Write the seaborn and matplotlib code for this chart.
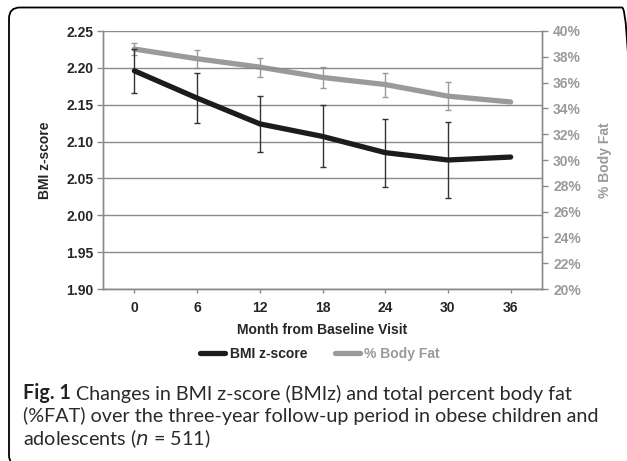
import numpy as np
import pandas as pd
import matplotlib
matplotlib.use("Agg")
import matplotlib.pyplot as plt
import seaborn as sns
from matplotlib.patches import FancyBboxPatch
from matplotlib.lines import Line2D

months = [0, 6, 12, 18, 24, 30, 36]
bmi_z = [2.196, 2.159, 2.124, 2.107, 2.085, 2.075, 2.079]
bmi_err = [0.030, 0.034, 0.038, 0.042, 0.046, 0.052, np.nan]
body_fat = [38.6, 37.85, 37.2, 36.4, 35.85, 34.95, 34.5]
fat_err = [0.45, 0.68, 0.73, 0.83, 0.93, 1.08, np.nan]

left_ticks = [1.90, 1.95, 2.00, 2.05, 2.10, 2.15, 2.20, 2.25]
right_ticks = [20, 22, 24, 26, 28, 30, 32, 34, 36, 38, 40]

df = pd.DataFrame({"month": months, "bmi": bmi_z, "bmi_err": bmi_err,
                   "fat": body_fat, "fat_err": fat_err})

sns.set_style("white")
plt.rcParams["font.family"] = ["Liberation Sans", "DejaVu Sans"]

BLACK = "#1c1c1c"
GRAY = "#9a9a9a"
AXC = "#8a8a8a"
W, H = 627, 461

fig = plt.figure(figsize=(W / 100, H / 100), dpi=100)
ax = fig.add_axes([103 / W, 1 - 289 / H, (542 - 103) / W, (289 - 31) / H])
ax2 = ax.twinx()

# gridlines follow the left axis
ax.set_ylim(1.90, 2.25)
ax.set_yticks(left_ticks)
ax.set_yticklabels([f"{v:.2f}" for v in left_ticks], fontsize=10, fontweight="bold")
ax.grid(axis="y", color=AXC, linewidth=1.0)
ax.set_axisbelow(True)
ax.set_xlim(-3, 39)
ax.set_xticks(months)
ax.set_xticklabels([str(m) for m in months], fontsize=10, fontweight="bold")

ax2.set_ylim(20, 40)
ax2.set_yticks(right_ticks)
ax2.set_yticklabels([f"{v}%" for v in right_ticks], fontsize=10,
                    fontweight="bold", color=GRAY)

for a in (ax, ax2):
    for s in a.spines.values():
        s.set_color(AXC)
        s.set_linewidth(1.0)
    a.spines["top"].set_visible(False)
ax.tick_params(axis="y", length=4, color=AXC, width=1, pad=3, left=True)
ax.tick_params(axis="x", length=3, color=AXC, width=1, pad=6, bottom=True)
ax2.tick_params(axis="y", length=4, color=AXC, width=1, pad=4, right=True)

sns.lineplot(data=df, x="month", y="fat", ax=ax2, color=GRAY, linewidth=3.8,
             solid_capstyle="round", legend=False, zorder=3)
ax2.errorbar(df["month"], df["fat"], yerr=df["fat_err"], fmt="none",
             ecolor=GRAY, elinewidth=1.0, capsize=2.5, capthick=1.0, zorder=2)

ax.errorbar(df["month"], df["bmi"], yerr=df["bmi_err"], fmt="none",
            ecolor="#333333", elinewidth=1.0, capsize=2.5, capthick=1.0, zorder=2)
sns.lineplot(data=df, x="month", y="bmi", ax=ax, color=BLACK, linewidth=3.8,
             solid_capstyle="round", legend=False, zorder=3)
ax.set_zorder(ax2.get_zorder() + 1)
ax.patch.set_visible(False)

ax.set_xlabel("")
ax.set_ylabel("BMI z-score", fontsize=10, fontweight="bold", labelpad=10)
ax2.set_ylabel("% Body Fat", fontsize=10, fontweight="bold", color=GRAY, labelpad=12)

fig.text(322.5 / W, 1 - 330 / H, "Month from Baseline Visit", ha="center",
         va="center", fontsize=10, fontweight="bold")

handles = [Line2D([], [], color=BLACK, linewidth=3.8, solid_capstyle="round"),
           Line2D([], [], color=GRAY, linewidth=3.8, solid_capstyle="round")]
leg = fig.legend(handles, ["BMI z-score", "% Body Fat"], loc="center",
                 bbox_to_anchor=(320 / W, 1 - 354 / H), ncol=2, frameon=False,
                 handlelength=1.8, handletextpad=0.3, columnspacing=2.0,
                 prop={"weight": "bold", "size": 10})
leg.get_texts()[1].set_color(GRAY)

# caption
cap = ["Fig. 1", " Changes in BMI z-score (BMIz) and total percent body fat",
       "(%FAT) over the three-year follow-up period in obese children and",
       "adolescents ($\\it{n}$ = 511)"]
cfont = ["Lato", "DejaVu Sans"]
csize = 14.2
t1 = fig.text(23 / W, 1 - 399 / H, cap[0], fontsize=csize, fontweight="bold",
              family=cfont, va="baseline", color="#222222")
ax.annotate(cap[1], xy=(1, 0), xycoords=t1, xytext=(0, 0),
            textcoords="offset points", va="bottom", ha="left",
            fontsize=csize, family=cfont, color="#2a2a2a", annotation_clip=False)
fig.text(23 / W, 1 - 422 / H, cap[2], fontsize=csize, family=cfont,
         va="baseline", color="#2a2a2a")
fig.text(23 / W, 1 - 445 / H, cap[3], fontsize=csize, family=cfont,
         va="baseline", color="#2a2a2a")

box = FancyBboxPatch((9, -5), 624, 461 - 7.5 + 5, transform=None,
                     boxstyle="round,pad=0,rounding_size=11",
                     facecolor="none", edgecolor="black", linewidth=1.3)
fig.patches.append(box)

fig.savefig("out.png", dpi=100)
